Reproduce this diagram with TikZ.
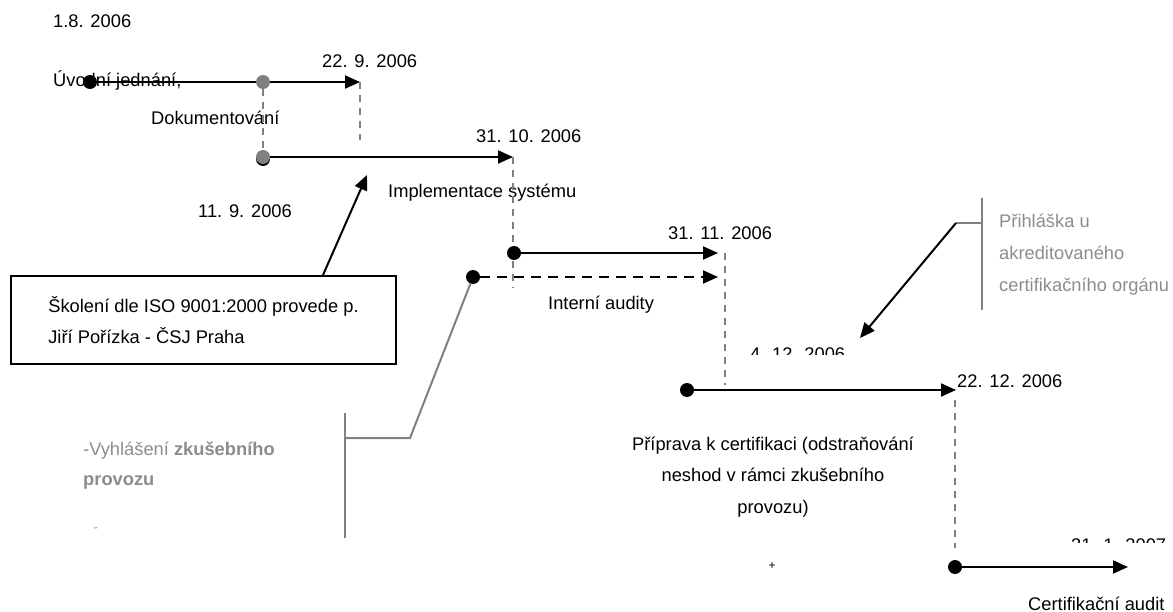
\documentclass[tikz,border=0pt]{standalone}
\usepackage{fontspec}
\setmainfont{Liberation Sans}
\usetikzlibrary{arrows.meta,shadows}

\definecolor{plangray}{RGB}{128,128,128}
\definecolor{notegray}{RGB}{140,140,140}

\tikzset{
  dot/.style={circle,fill=black,inner sep=0pt,minimum size=14pt},
  gdot/.style={dot,fill=plangray},
  phase/.style={line width=2pt,-{Triangle[length=15pt,width=13pt]}},
  datum/.style={anchor=base west,inner sep=0pt},
  guide/.style={plangray,line width=1.5pt,dash pattern=on 7pt off 6pt},
  noteline/.style={plangray,line width=2pt},
  notetext/.style={datum,text=notegray,align=left},
}

\begin{document}
\begin{tikzpicture}[x=1pt,y=-1pt,font=\fontsize{18.3}{32}\selectfont]
  \useasboundingbox (0,0) rectangle (1173,612);

  \node[datum] (start) at (53,28) {1.8. 2006};
  \node[datum] (uvod txt) at (53,87) {Úvodní jednání,};
  \node[datum] (d229) at (322,68) {22. 9. 2006};
  \node[datum] (dok txt) at (151,125) {Dokumentování};
  \node[datum] (d119) at (198,218) {11. 9. 2006};
  \node[datum] (d3110) at (476,143) {31. 10. 2006};
  \node[datum] (impl txt) at (388,198) {Implementace systému};
  \node[datum] (d3111) at (668,240) {31. 11. 2006};
  \node[datum] (audit txt) at (548,310) {Interní audity};
  \node[datum] (d2212) at (957,388) {22. 12. 2006};
  \node[datum] (cert txt) at (1028,610) {Certifikační audit};
  \node[datum,align=center,anchor=base,font=\fontsize{18.3}{31.5}\selectfont] (prip txt) at (773,513)
    {Příprava k certifikaci (odstraňování\\neshod v rámci zkušebního\\provozu)};

  \begin{scope}
    \clip (740,330) rectangle (870,355);
    \node[datum] (d412) at (750,360) {4. 12. 2006};
  \end{scope}
  \begin{scope}
    \clip (1060,530) rectangle (1173,542);
    \node[datum] (d311) at (1071,551) {31. 1. 2007};
  \end{scope}
  \node[font=\fontsize{12}{12}\selectfont,inner sep=0pt] (plus) at (772,566) {+};
  \node[text=notegray,font=\fontsize{11}{11}\selectfont,inner sep=0pt] (mark) at (96,531) {˘};

  % osa
  \node[dot] (uvod) at (90,82) {};
  \coordinate (uvod end) at (360,82);
  \draw[phase] (uvod) -- (uvod end);
  \node[gdot] (dok) at (263,82) {};
  \node[gdot,drop shadow={shadow xshift=0pt,shadow yshift=-2pt,opacity=1,fill=black}] (impl) at (263,157) {};
  \draw[guide] (dok) -- (impl);
  \coordinate (impl end) at (513,157);
  \draw[phase] (impl) -- (impl end);

  \coordinate (g1) at (360,140);
  \draw[guide] (uvod end) -- (g1);
  \coordinate (g2) at (513,288);
  \draw[guide] (impl end) -- (g2);
  \coordinate (g3a) at (725,253);
  \coordinate (g3b) at (725,385);
  \draw[guide] (g3a) -- (g3b);

  \node[dot] (audit) at (514,253) {};
  \coordinate (audit end) at (718,253);
  \draw[phase] (audit) -- (audit end);
  \node[dot] (zkus) at (473,277) {};
  \coordinate (zkus end) at (718,277);
  \draw[phase,dash pattern=on 10pt off 7pt] (zkus) -- (zkus end);

  \node[dot] (prip) at (687,390) {};
  \coordinate (prip end) at (956,390);
  \draw[phase] (prip) -- (prip end);
  \coordinate (g4a) at (955,400);
  \coordinate (g4b) at (955,548);
  \draw[guide] (g4a) -- (g4b);
  \node[dot] (cert) at (955,567) {};
  \coordinate (cert end) at (1128,567);
  \draw[phase] (cert) -- (cert end);

  % poznamky
  \node[draw,line width=2pt,anchor=north west,minimum width=385pt,minimum height=88pt,
        inner xsep=22pt,align=left,font=\fontsize{18.3}{31}\selectfont] (skoleni) at (10,275)
    {Školení dle ISO 9001:2000 provede p.\\Jiří Pořízka - ČSJ Praha};
  \coordinate (skoleni tip) at (367,175);
  \draw[phase] (skoleni.north -| 323,0) -- (skoleni tip);

  \node[notetext,font=\fontsize{18.3}{30}\selectfont] (vyhl) at (83,485)
    {-Vyhlášení \textbf{zkušebního}\\\textbf{provozu}};
  \coordinate (vyhl bend) at (410,438);
  \coordinate (vyhl bar) at (345,438);
  \coordinate (vyhl top) at (345,413);
  \coordinate (vyhl bot) at (345,538);
  \draw[noteline] (zkus) -- (vyhl bend) -- (vyhl bar);
  \draw[noteline] (vyhl top) -- (vyhl bot);

  \node[notetext] (prihl) at (999,292)
    {Přihláška u\\akreditovaného\\certifikačního orgánu};
  \coordinate (prihl top) at (982,198);
  \coordinate (prihl bot) at (982,310);
  \coordinate (prihl bar) at (982,223);
  \coordinate (prihl bend) at (956,223);
  \coordinate (prihl tip) at (860,338);
  \draw[noteline] (prihl top) -- (prihl bot);
  \draw[noteline] (prihl bar) -- (prihl bend);
  \draw[phase] (prihl bend) -- (prihl tip);
\end{tikzpicture}
\end{document}
